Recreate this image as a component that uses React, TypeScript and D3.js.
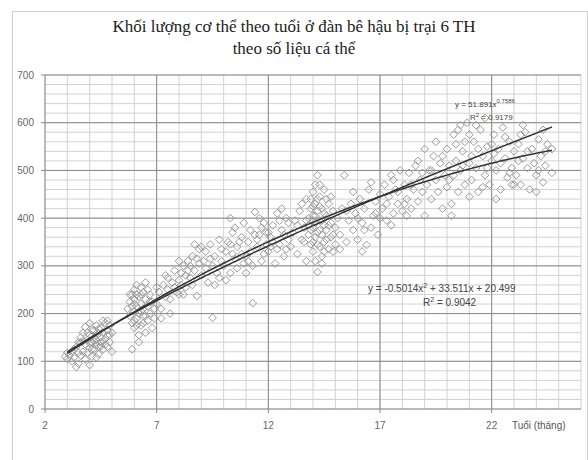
import * as d3 from "d3";
import React from "react";

// tuổi (tháng), khối lượng (kg)
const points: [number, number][] = [
  [2.9, 110], [3.0, 118], [3.0, 105], [3.1, 112], [3.2, 120], [3.2, 100], [3.3, 125], [3.4, 88], [3.4, 130], [3.5, 95],
  [3.5, 140], [3.6, 112], [3.6, 150], [3.7, 120], [3.7, 160], [3.8, 104], [3.8, 135], [3.8, 172], [3.9, 145], [3.9, 118],
  [4.0, 92], [4.0, 128], [4.0, 155], [4.0, 180], [4.1, 140], [4.1, 110], [4.2, 165], [4.2, 125], [4.2, 150], [4.3, 135],
  [4.3, 145], [4.3, 175], [4.4, 130], [4.4, 158], [4.4, 115], [4.5, 140], [4.5, 170], [4.5, 150], [4.6, 125], [4.6, 160],
  [4.6, 185], [4.7, 135], [4.7, 148], [4.8, 165], [4.8, 130], [4.8, 155], [4.9, 140], [4.9, 175], [5.0, 120], [5.0, 160],
  [4.1, 165], [3.9, 160], [4.3, 108], [3.6, 140], [4.7, 180], [4.5, 132],
  [3.7, 142], [4.0, 138], [4.2, 142], [4.4, 168], [3.5, 118], [4.6, 142], [4.9, 155], [3.3, 108], [4.1, 125], [4.8, 185],
  [5.7, 210], [5.8, 195], [5.8, 225], [5.9, 180], [5.9, 240], [5.9, 125], [6.0, 205], [6.0, 230], [6.0, 170], [6.0, 250],
  [6.1, 190], [6.1, 215], [6.1, 260], [6.2, 140], [6.2, 200], [6.2, 235], [6.3, 175], [6.3, 220], [6.3, 255], [6.4, 195],
  [6.4, 210], [6.4, 245], [6.5, 160], [6.5, 230], [6.5, 265], [6.6, 185], [6.6, 215], [6.7, 200], [6.7, 240], [6.8, 170],
  [6.8, 225], [6.9, 190], [6.0, 185], [6.2, 155], [5.9, 215], [6.4, 180], [6.6, 250], [6.1, 240],
  [6.0, 220], [6.3, 205], [6.5, 195], [6.1, 175], [6.7, 225], [5.8, 240], [6.3, 240], [6.9, 210],
  [7.0, 220], [7.1, 245], [7.2, 210], [7.3, 260], [7.4, 235], [7.5, 275], [7.5, 250], [7.6, 230], [7.7, 265], [7.8, 290],
  [7.9, 245], [8.0, 270], [7.2, 190], [7.6, 200], [7.0, 255], [7.4, 280], [7.8, 255], [8.0, 240],
  [8.1, 285], [8.2, 300], [8.3, 255], [8.4, 310], [8.5, 275], [8.6, 320], [8.7, 290], [8.8, 237], [8.9, 335], [8.2, 240],
  [8.6, 260], [8.4, 290], [8.9, 305], [8.0, 310], [8.7, 345], [8.3, 280], [8.5, 300], [8.1, 260], [8.8, 315],
  [9.0, 280], [9.1, 310], [9.2, 330], [9.3, 265], [9.4, 345], [9.5, 191], [9.5, 300], [9.6, 320], [9.7, 285], [9.8, 355],
  [9.9, 310], [9.2, 295], [9.6, 260], [9.9, 335], [9.4, 315], [9.0, 340], [9.8, 275],
  [10.0, 300], [10.1, 330], [10.2, 350], [10.3, 285], [10.3, 400], [10.4, 370], [10.5, 315], [10.6, 340], [10.8, 360], [10.9, 305],
  [10.1, 270], [10.5, 380], [10.8, 325], [10.3, 345], [10.6, 295], [10.9, 390], [10.4, 325], [10.7, 350],
  [11.0, 320], [11.1, 350], [11.2, 375], [11.3, 222], [11.3, 300], [11.4, 413], [11.5, 340], [11.6, 365], [11.7, 310], [11.8, 390],
  [11.9, 345], [11.2, 330], [11.6, 400], [11.9, 370], [11.0, 285], [11.5, 355], [11.8, 325], [11.1, 310], [11.4, 365], [11.7, 380],
  [12.0, 330], [12.1, 360], [12.2, 385], [12.3, 305], [12.4, 410], [12.5, 345], [12.6, 375], [12.7, 320], [12.8, 400], [12.9, 355],
  [12.2, 350], [12.6, 420], [12.9, 390], [12.4, 335], [12.0, 370], [12.7, 365], [12.1, 340], [12.5, 395], [12.8, 335],
  [13.0, 340], [13.1, 370], [13.2, 395], [13.3, 325], [13.4, 415], [13.5, 355], [13.6, 380], [13.7, 440], [13.7, 310], [13.8, 400],
  [13.8, 365], [13.9, 420], [13.9, 345], [14.0, 380], [14.0, 455], [14.0, 330], [14.0, 405], [14.1, 360], [14.1, 430], [14.1, 390],
  [14.2, 287], [14.2, 490], [14.2, 370], [14.2, 415], [14.3, 340], [14.3, 445], [14.3, 395], [14.4, 365], [14.4, 420], [14.4, 320],
  [14.5, 385], [14.5, 460], [14.5, 350], [14.6, 405], [14.6, 375], [14.7, 430], [14.7, 335], [14.8, 390], [14.8, 360], [14.9, 415],
  [15.0, 345], [15.0, 380], [13.5, 430], [13.9, 375], [14.1, 310], [14.6, 440], [13.3, 385], [14.9, 330], [13.6, 350], [14.3, 470],
  [13.8, 385], [14.0, 350], [14.0, 425], [14.1, 405], [14.2, 345], [14.2, 440], [14.3, 375], [14.4, 395], [14.5, 410], [14.6, 355],
  [14.7, 385], [14.0, 395], [13.9, 440], [14.3, 425], [14.8, 445], [14.5, 330], [14.1, 470], [14.4, 305], [13.7, 395], [14.9, 365],
  [15.1, 400], [15.2, 365], [15.4, 490], [15.3, 420], [15.5, 350], [15.6, 395], [15.7, 430], [15.8, 375], [15.9, 410], [16.0, 355],
  [16.1, 440], [16.2, 390], [16.4, 344], [16.3, 420], [16.5, 460], [16.6, 380], [16.7, 405], [16.8, 435], [16.9, 365], [17.0, 450],
  [15.2, 335], [15.8, 455], [16.2, 330], [16.6, 475], [16.0, 400], [15.5, 415], [16.3, 375], [16.8, 410],
  [17.1, 420], [17.2, 470], [17.3, 395], [17.4, 445], [17.5, 490], [17.6, 410], [17.7, 460], [17.8, 430], [17.9, 500], [18.0, 415],
  [18.1, 470], [18.2, 440], [18.3, 495], [18.4, 420], [18.5, 460], [18.6, 510], [18.7, 435], [18.8, 480], [18.9, 455], [19.0, 405],
  [17.5, 385], [18.2, 405], [18.7, 520], [17.0, 400], [17.3, 430], [17.8, 455], [18.1, 430], [18.4, 470], [18.9, 495], [17.6, 480],
  [19.1, 470], [19.2, 500], [19.3, 440], [19.4, 530], [19.5, 480], [19.6, 455], [19.7, 515], [19.8, 420], [19.9, 490], [20.0, 545],
  [20.0, 465], [20.1, 510], [20.2, 430], [20.3, 575], [20.3, 490], [20.4, 520], [20.5, 455], [20.6, 595], [20.6, 500], [20.7, 540],
  [20.8, 470], [20.9, 600], [21.0, 515], [21.0, 445], [19.5, 560], [20.2, 405], [19.0, 545], [20.8, 560],
  [19.3, 500], [19.8, 530], [20.1, 480], [20.4, 555], [20.7, 510], [20.5, 585], [21.0, 575],
  [21.1, 480], [21.2, 560], [21.3, 505], [21.4, 455], [21.5, 585], [21.6, 530], [21.7, 610], [21.7, 490], [21.8, 550], [21.9, 470],
  [22.0, 520], [22.1, 575], [22.2, 500], [22.3, 545], [22.4, 460], [22.5, 590], [22.6, 525], [22.7, 485], [22.8, 560], [22.9, 505],
  [23.0, 540], [21.3, 595], [22.2, 440], [22.6, 570], [21.1, 530], [21.4, 545], [21.8, 505], [22.1, 535], [22.4, 515], [22.8, 495],
  [22.0, 555], [21.6, 465], [22.9, 470],
  [23.1, 490], [23.2, 555], [23.3, 470], [23.4, 525], [23.5, 580], [23.6, 505], [23.7, 460], [23.8, 545], [23.9, 515], [24.0, 490],
  [24.1, 565], [24.2, 530], [24.3, 475], [24.4, 510], [24.5, 555], [24.7, 545], [24.7, 495], [23.4, 595], [24.0, 455], [23.0, 470],
  [23.2, 520], [23.6, 540], [24.1, 500], [24.4, 540], [23.3, 575], [24.3, 585],
];

// Excel trendlines as printed on the chart
const powerCoef = { a: 51.891, b: 0.7586 };
const polyCoef = { a: -0.5014, b: 33.511, c: 20.499 };
const trendRange = [3, 24.7];

const xTicks = [2, 7, 12, 17, 22];
const yTicks = [0, 100, 200, 300, 400, 500, 600, 700];
const titleLines = ["Khối lượng cơ thể theo tuổi ở đàn bê hậu bị trại 6 TH", "theo số liệu cá thể"];

export default function App() {
  const width = 588;
  const height = 460;
  const plot = { left: 45, right: 581, top: 75, bottom: 409 };

  const x = d3.scaleLinear().domain([2, 26]).range([plot.left, plot.right]);
  const y = d3.scaleLinear().domain([0, 700]).range([plot.bottom, plot.top]);

  const minorX = d3.range(2, 26.01, 1);
  const minorY = d3.range(0, 700.01, 20);

  const line = d3.line<number>().x((d) => x(d));

  const steps = d3.range(trendRange[0], trendRange[1] + 0.001, 0.1);
  const powerPath = line.y((d) => y(powerCoef.a * Math.pow(d, powerCoef.b)))(steps);
  const polyPath = line.y((d) => y(polyCoef.a * d * d + polyCoef.b * d + polyCoef.c))(steps);

  const diamond = d3.symbol(d3.symbolDiamond2, 38)();

  const sans = "Liberation Sans, Arial, sans-serif";

  return (
    <svg
      width={width}
      height={height}
      style={{ position: "absolute", left: 0, top: 0, background: "#fff" }}
    >
      <rect x={12.5} y={11.5} width={575} height={460} fill="#fff" stroke="#cfcfcf" />

      <g fontFamily="Liberation Serif, Times New Roman, serif" fontSize="17" fill="#222" textAnchor="middle">
        {titleLines.map((t, i) => (
          <text key={i} x={294} y={32 + i * 22}>
            {t}
          </text>
        ))}
      </g>

      {/* minor grid */}
      <g stroke="#d2d2d2" strokeWidth="1">
        {minorX.map((d) => (
          <line key={"mx" + d} x1={x(d)} x2={x(d)} y1={plot.top} y2={plot.bottom} />
        ))}
        {minorY.map((d) => (
          <line key={"my" + d} x1={plot.left} x2={plot.right} y1={y(d)} y2={y(d)} />
        ))}
      </g>
      {/* major grid */}
      <g stroke="#8a8a8a" strokeWidth="1">
        {xTicks.map((d) => (
          <line key={"Mx" + d} x1={x(d)} x2={x(d)} y1={plot.top} y2={plot.bottom + 4} />
        ))}
        {yTicks.map((d) => (
          <line key={"My" + d} x1={plot.left - 4} x2={plot.right} y1={y(d)} y2={y(d)} />
        ))}
      </g>

      <g fontFamily={sans} fontSize="10" fill="#666">
        {yTicks.map((d) => (
          <text key={"yl" + d} x={34} y={y(d)} textAnchor="end" dominantBaseline="central">
            {d}
          </text>
        ))}
        {xTicks.map((d) => (
          <text key={"xl" + d} x={x(d)} y={425} textAnchor="middle" dominantBaseline="central">
            {d}
          </text>
        ))}
        <text x={512} y={425} dominantBaseline="central" fill="#555">
          Tuổi (tháng)
        </text>
      </g>

      <g fill="none" stroke="#9a9a9a" strokeWidth="1">
        {points.map((p, i) => (
          <path key={i} d={diamond || ""} transform={`translate(${x(p[0])},${y(p[1])})`} />
        ))}
      </g>

      <g fill="none" stroke="#333" strokeWidth="1.5">
        <path d={powerPath || ""} />
        <path d={polyPath || ""} />
      </g>

      <g fontFamily={sans} fill="#444">
        <text x={455} y={107} fontSize="8">
          y = 51.891x<tspan dy="-4" fontSize="6">0.7586</tspan>
        </text>
        <text x={470} y={120} fontSize="8">
          R<tspan dy="-3" fontSize="6">2</tspan>
          <tspan dy="3"> = 0.9179</tspan>
        </text>
        <text x={368} y={292} fontSize="10">
          y = -0.5014x<tspan dy="-4" fontSize="7">2</tspan>
          <tspan dy="4"> + 33.511x + 20.499</tspan>
        </text>
        <text x={423} y={306} fontSize="10">
          R<tspan dy="-4" fontSize="7">2</tspan>
          <tspan dy="4"> = 0.9042</tspan>
        </text>
      </g>
    </svg>
  );
}
